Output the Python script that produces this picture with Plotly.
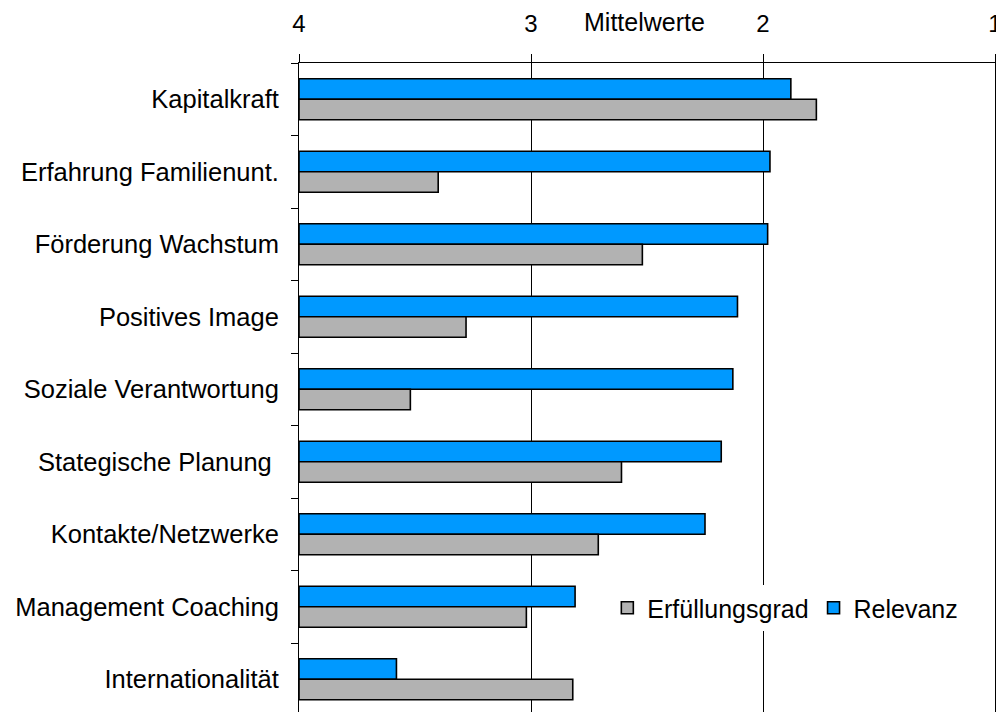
import plotly.graph_objects as go

categories = [
    "Kapitalkraft",
    "Erfahrung Familienunt.",
    "Förderung Wachstum",
    "Positives Image",
    "Soziale Verantwortung",
    "Stategische Planung ",
    "Kontakte/Netzwerke",
    "Management Coaching",
    "Internationalität",
]
relevanz = [1.88, 1.97, 1.98, 2.11, 2.13, 2.18, 2.25, 2.81, 3.58]
erfuellungsgrad = [1.77, 3.40, 2.52, 3.28, 3.52, 2.61, 2.71, 3.02, 2.82]
tick_vals = [4, 3, 2, 1]
tick_text = ["4", "3", "2", "1"]
axis_origin = 4  # bars grow from the "4" end of the reversed scale

FONT = "Liberation Sans, Arial, sans-serif"
W, H = 996, 712
ML, MR, MT, MB = 299, 1, 63, 0

fig = go.Figure()
fig.add_trace(go.Bar(
    y=categories, x=[v - axis_origin for v in relevanz], base=axis_origin,
    orientation="h", name="Relevanz",
    customdata=relevanz, hovertemplate="%{y}: %{customdata}<extra>Relevanz</extra>",
    marker=dict(color="#0099FF", line=dict(color="black", width=1.6)),
))
fig.add_trace(go.Bar(
    y=categories, x=[v - axis_origin for v in erfuellungsgrad], base=axis_origin,
    orientation="h", name="Erfüllungsgrad",
    customdata=erfuellungsgrad, hovertemplate="%{y}: %{customdata}<extra>Erfüllungsgrad</extra>",
    marker=dict(color="#B2B2B2", line=dict(color="black", width=1.6)),
))

plot_h = H - MT - MB
cat_px = 72.5
y_bottom = -0.5 + plot_h / cat_px

fig.update_layout(
    width=W, height=H,
    margin=dict(l=ML, r=MR, t=MT, b=MB, pad=0, autoexpand=False),
    paper_bgcolor="white", plot_bgcolor="white",
    barmode="group", bargap=0.434, bargroupgap=0,
    font=dict(family=FONT, size=25, color="black"),
    showlegend=True,
    legend=dict(
        orientation="h", traceorder="reversed",
        x=0.443, y=1 - (608 - MT) / plot_h, xanchor="left", yanchor="middle",
        bgcolor="white", borderwidth=0,
        font=dict(family=FONT, size=25, color="black"),
        itemwidth=30,
    ),
    xaxis=dict(
        side="top", range=[4, 1], tickvals=tick_vals, ticktext=tick_text,
        showgrid=True, gridcolor="black", gridwidth=1,
        showline=True, linecolor="black", linewidth=1, mirror=False,
        ticks="outside", ticklen=8, tickcolor="black", tickwidth=1,
        ticklabelstandoff=12, automargin=False, ticklabeloverflow="allow",
        tickfont=dict(family=FONT, size=24, color="black"),
        zeroline=False, fixedrange=True,
    ),
    yaxis=dict(
        type="category", categoryorder="array", categoryarray=categories,
        range=[y_bottom, -0.5], automargin=False,
        showgrid=False, showline=True, linecolor="black", linewidth=1,
        mirror=True,
        ticks="outside", ticklen=7, tickcolor="black", tickson="boundaries",
        ticklabelstandoff=14,
        tickfont=dict(family=FONT, size=25.5, color="black"),
        zeroline=False, fixedrange=True,
    ),
    annotations=[dict(
        text="Mittelwerte", xref="paper", yref="paper",
        x=(644 - ML) / (W - ML - MR), y=1 + (MT - 22) / plot_h,
        xanchor="center", yanchor="middle", showarrow=False,
        font=dict(family=FONT, size=25, color="black"),
    )],
)

fig.write_html(
    "out.html",
    config={"displayModeBar": False},
    post_script="document.body.style.margin='0';document.body.style.overflow='hidden';",
)
